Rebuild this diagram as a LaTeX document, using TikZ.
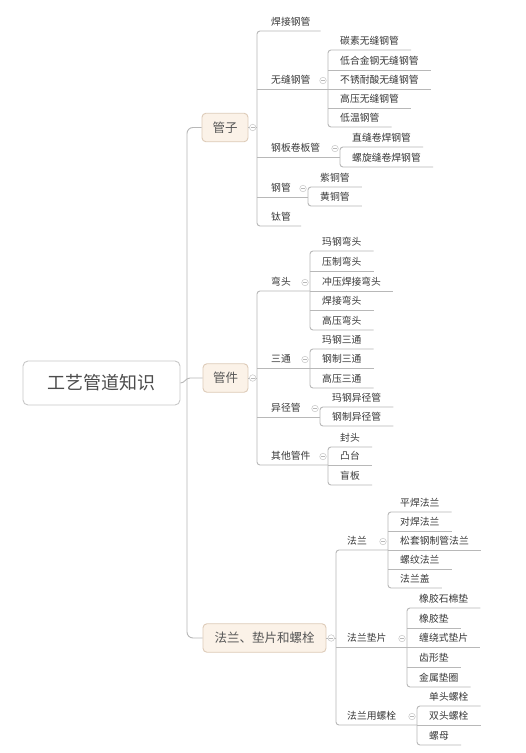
\documentclass[tikz,border=0pt]{standalone}
\usepackage{fontspec}
\newfontfamily\cjk{Noto Sans CJK SC}
\usetikzlibrary{calc}
\definecolor{linec}{HTML}{B8B8B8}
\definecolor{txt}{HTML}{383838}
\definecolor{boxfill}{HTML}{FBF2E8}
\definecolor{boxdraw}{HTML}{DDCBB8}
\definecolor{rootdraw}{HTML}{C8C8C8}
\begin{document}
\begin{tikzpicture}[x=1pt,y=-1pt,
  conn/.style={draw=linec, line width=0.9pt},
  tb/.style={inner xsep=0pt, inner ysep=0pt, minimum height=18pt, anchor=south west,
    text=txt, font=\cjk\fontsize{9.8}{10}\selectfont, text height=7.6pt, text depth=0pt},
  lf/.style={tb, execute at begin node={\hspace*{12pt}}, execute at end node={\hspace*{12pt}}},
  lftwo/.style={tb, execute at begin node={\hspace*{14pt}}, execute at end node={\hspace*{10pt}}},
  partwo/.style={tb, execute at begin node={\hspace*{14pt}}},
  parthree/.style={tb, execute at begin node={\hspace*{11pt}}},
  rootbox/.style={draw=rootdraw, fill=white, line width=0.9pt, rounded corners=5pt,
    minimum width=157pt, minimum height=44pt, inner sep=0pt, text=txt!90,
    font=\cjk\fontsize{18}{20}\selectfont},
  lonebox/.style={draw=boxdraw, fill=boxfill, line width=0.9pt, rounded corners=4pt,
    minimum height=28.5pt, inner sep=0pt, text=txt!85,
    font=\cjk\fontsize{12.5}{14}\selectfont},
  coll/.style={circle, draw=linec!80, fill=white, line width=0.5pt, minimum size=6.5pt, inner sep=0pt,
    path picture={\draw[linec, line width=0.5pt] ([xshift=-1.8pt]path picture bounding box.center) -- ([xshift=1.8pt]path picture bounding box.center);}}
]
\useasboundingbox[fill=white] (0,0) rectangle (526,753);

% root and level 1
\node[rootbox] (root) at (101.5,383) {工艺管道知识};
\node[lonebox, minimum width=46pt] (gz) at (225,127.5) {管子};
\node[lonebox, minimum width=45pt] (gj) at (225.5,378) {管件};
\node[lonebox, minimum width=123pt] (fl) at (264.5,638) {法兰、垫片和螺栓};

% 管子 group
\node[lftwo] (hj) at (257,31) {焊接钢管};
\node[partwo] (wf) at (257,89) {无缝钢管};
\node[lf] (wf1) at (328,50) {碳素无缝钢管};
\node[lf] (wf2) at (328,70) {低合金钢无缝钢管};
\node[lf] (wf3) at (328,89) {不锈耐酸无缝钢管};
\node[lf] (wf4) at (328,108) {高压无缝钢管};
\node[lf] (wf5) at (328,127) {低温钢管};
\node[partwo] (gb) at (257,157) {钢板卷板管};
\node[lf] (gb1) at (340,147) {直缝卷焊钢管};
\node[lf] (gb2) at (340,167) {螺旋缝卷焊钢管};
\node[partwo] (gg) at (257,197) {钢管};
\node[lf] (gg1) at (308,187) {紫铜管};
\node[lf] (gg2) at (308,206) {黄铜管};
\node[lftwo] (tg) at (257,226) {钛管};

% 管件 group
\node[partwo] (wt) at (257,291) {弯头};
\node[lf] (wt1) at (310,251) {玛钢弯头};
\node[lf] (wt2) at (310,271) {压制弯头};
\node[lf] (wt3) at (310,291) {冲压焊接弯头};
\node[lf] (wt4) at (310,310) {焊接弯头};
\node[lf] (wt5) at (310,330) {高压弯头};
\node[partwo] (st) at (257,368) {三通};
\node[lf] (st1) at (310,349) {玛钢三通};
\node[lf] (st2) at (310,368) {钢制三通};
\node[lf] (st3) at (310,388) {高压三通};
\node[partwo] (yj) at (257,417) {异径管};
\node[lf] (yj1) at (320,407) {玛钢异径管};
\node[lf] (yj2) at (320,426) {钢制异径管};
\node[partwo] (qt) at (257,465) {其他管件};
\node[lf] (qt1) at (328,447) {封头};
\node[lf] (qt2) at (328,465) {凸台};
\node[lf] (qt3) at (328,485) {盲板};

% 法兰 group
\node[parthree] (fa) at (336,550) {法兰};
\node[lf] (fa1) at (388,512) {平焊法兰};
\node[lf] (fa2) at (388,531) {对焊法兰};
\node[lf] (fa3) at (388,550) {松套钢制管法兰};
\node[lf] (fa4) at (388,569) {螺纹法兰};
\node[lf] (fa5) at (388,588) {法兰盖};
\node[parthree] (dp) at (336,647) {法兰垫片};
\node[lf] (dp1) at (407,608) {橡胶石棉垫};
\node[lf] (dp2) at (407,628) {橡胶垫};
\node[lf] (dp3) at (407,647) {缠绕式垫片};
\node[lf] (dp4) at (407,667) {齿形垫};
\node[lf] (dp5) at (407,687) {金属垫圈};
\node[parthree] (ls) at (336,725) {法兰用螺栓};
\node[lf] (ls1) at (417,706) {单头螺栓};
\node[lf] (ls2) at (417,725) {双头螺栓};
\node[lf] (ls3) at (417,745) {螺母};

% trunk
\coordinate (trunk) at (187,0);
\draw[conn, rounded corners=6pt] (gz.west) -- (gz.west -| trunk) -- (fl.west -| trunk) -- (fl.west);
\draw[conn] (root.east) to[out=0, in=180] ($(gj.west -| trunk)+(3,0)$) -- (gj.west);

% level 1 -> level 2
\draw[conn] (gz.east) -- (hj.south west |- gz.east);
\draw[conn] (gj.east) -- (wt.south west |- gj.east);
\draw[conn] (fl.east) -- (fa.south west |- fl.east);
\draw[conn, rounded corners=3pt] (hj.south east) -- (hj.south west) -- (tg.south west) -- (tg.south east);
\draw[conn, rounded corners=3pt] (wt1.south west |- wt.south) -- (wt.south west) -- (qt.south west) -- (qt1.south west |- qt.south);
\draw[conn, rounded corners=3pt] (fa1.south west |- fa.south) -- (fa.south west) -- (ls.south west) -- (ls1.south west |- ls.south);
\draw[conn] (wf.south west) -- (wf1.south west |- wf.south);
\draw[conn] (gb.south west) -- (gb1.south west |- gb.south);
\draw[conn] (gg.south west) -- (gg1.south west |- gg.south);
\draw[conn] (st.south west) -- (st1.south west |- st.south);
\draw[conn] (yj.south west) -- (yj1.south west |- yj.south);
\draw[conn] (dp.south west) -- (dp1.south west |- dp.south);

% level 2 -> level 3
\foreach \a/\b in {wf1/wf5, gb1/gb2, gg1/gg2, wt1/wt5, st1/st3, yj1/yj2, qt1/qt3, fa1/fa5, dp1/dp5, ls1/ls3}
  \draw[conn, rounded corners=3pt] (\a.south east) -- (\a.south west) -- (\b.south west) -- (\b.south east);
\foreach \n in {wf2,wf3,wf4,wt2,wt3,wt4,st2,qt2,fa2,fa3,fa4,dp2,dp3,dp4,ls2}
  \draw[conn] (\n.south west) -- (\n.south east);

% collapse marks
\node[coll] (k1) at ($(gz.east)!0.5!(hj.south west |- gz.east)$) {};
\node[coll] (k2) at ($(gj.east)!0.5!(wt.south west |- gj.east)$) {};
\node[coll] (k3) at ($(fl.east)!0.5!(fa.south west |- fl.east)$) {};
\foreach \p/\c [count=\i] in {wf/wf1, gb/gb1, gg/gg1, wt/wt1, st/st1, yj/yj1, qt/qt1, fa/fa1, dp/dp1, ls/ls1}
  \node[coll, xshift=-5pt, yshift=8.5pt] (m\i) at (\c.south west |- \p.south) {};
\end{tikzpicture}
\end{document}
